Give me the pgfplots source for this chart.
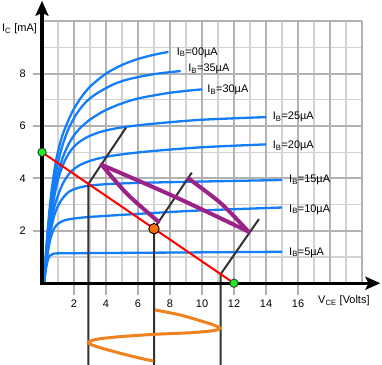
\documentclass[border=0pt]{standalone}
\usepackage{fontspec}
\setmainfont{Liberation Sans}
\usepackage{pgfplots}
\pgfplotsset{compat=1.18}
\usetikzlibrary{arrows.meta}
\definecolor{curveblue}{RGB}{20,125,250}
\definecolor{loadred}{RGB}{255,0,0}
\definecolor{darkline}{RGB}{50,50,50}
\definecolor{purp}{RGB}{155,35,135}
\definecolor{orng}{RGB}{240,130,30}
\definecolor{dotorange}{RGB}{255,110,0}
\definecolor{dotgreen}{RGB}{30,235,30}
\definecolor{gridmajor}{RGB}{178,178,178}
\definecolor{gridminor}{RGB}{210,210,210}
\newcommand{\lbl}{\fontsize{11}{13}\selectfont}
\begin{document}
\begin{tikzpicture}
\begin{axis}[
  x=16bp, y=26.2bp,
  xmin=-2.625, xmax=21.25, ymin=-3.12, ymax=10.81,
  enlargelimits=false,
  axis lines=middle,
  axis line style={draw=none,-},
  xtick={2,4,...,16}, ytick={2,4,6,8},
  major tick length=0pt,
  tick style={draw=none},
  /pgf/number format/assume math mode=true,
  xticklabel style={anchor=north, inner sep=0pt, yshift=-16.5bp, font=\lbl},
  yticklabel style={anchor=east, inner sep=0pt, xshift=-16bp, font=\lbl},
  clip=false,
]
% bounding box corners
\coordinate (LL) at (axis cs:-2.625,-3.12);
\coordinate (UR) at (axis cs:21.25,10.81);
% minor grid
\pgfplotsinvokeforeach{1,3,...,19}{\draw[gridminor, line width=1.3bp] (axis cs:#1,0) -- (axis cs:#1,10);}
\pgfplotsinvokeforeach{1,3,...,9}{\draw[gridminor, line width=1.3bp] (axis cs:0,#1) -- (axis cs:20,#1);}
% major grid
\pgfplotsinvokeforeach{2,4,...,20}{\draw[gridmajor, line width=2bp] (axis cs:#1,0) -- (axis cs:#1,10);}
\pgfplotsinvokeforeach{2,4,...,10}{\draw[gridmajor, line width=2bp] (axis cs:0,#1) -- (axis cs:20,#1);}
% tick marks
\pgfplotsinvokeforeach{2,4,...,16}{\draw[gridmajor, line width=2bp] (axis cs:#1,0) -- (axis cs:#1,-0.46);}
\pgfplotsinvokeforeach{2,4,...,8}{\draw[gridmajor, line width=2bp] (axis cs:0,#1) -- (axis cs:-0.56,#1);}

% characteristic curves (I_B = 5 ... 40 uA)
\addplot[curveblue, line width=2.3bp, smooth] coordinates {(0.12,0) (0.2,0.35) (0.3,0.72) (0.4,0.95) (0.5,1.06) (0.7,1.12) (1.0,1.14) (3,1.15) (8,1.17) (15,1.2)};
\addplot[curveblue, line width=2.3bp, smooth] coordinates {(0.12,0) (0.25,0.65) (0.4,1.3) (0.55,1.75) (0.75,2.08) (1.0,2.27) (1.4,2.4) (2.0,2.47) (3,2.53) (5,2.61) (7.5,2.7) (10,2.78) (15,2.89)};
\addplot[curveblue, line width=2.3bp, smooth] coordinates {(0.12,0) (0.3,1.0) (0.5,1.85) (0.75,2.55) (1.0,2.95) (1.3,3.25) (1.7,3.5) (2.2,3.63) (2.9,3.72) (4,3.78) (6,3.83) (9.9,3.88) (15,3.94)};
\addplot[curveblue, line width=2.3bp, smooth] coordinates {(0.12,0) (0.3,1.15) (0.5,2.05) (0.75,2.85) (1.0,3.35) (1.3,3.8) (1.7,4.18) (2.2,4.45) (2.9,4.65) (3.8,4.8) (5,4.92) (7,5.05) (10,5.19) (14,5.3)};
\addplot[curveblue, line width=2.3bp, smooth] coordinates {(0.12,0) (0.3,1.25) (0.5,2.3) (0.75,3.25) (1.0,3.95) (1.3,4.5) (1.7,4.98) (2.2,5.33) (2.9,5.6) (3.8,5.8) (5.0,5.95) (7,6.09) (10,6.24) (14,6.34)};
\addplot[curveblue, line width=2.3bp, smooth] coordinates {(0.12,0) (0.3,1.35) (0.5,2.5) (0.75,3.5) (1.0,4.2) (1.3,4.8) (1.7,5.35) (2.2,5.8) (2.9,6.2) (3.8,6.55) (4.8,6.82) (6.0,7.05) (8.0,7.27) (10,7.4)};
\addplot[curveblue, line width=2.3bp, smooth] coordinates {(0.12,0) (0.3,1.5) (0.5,2.75) (0.75,3.85) (1.0,4.6) (1.3,5.3) (1.7,5.95) (2.2,6.5) (2.8,6.95) (3.5,7.27) (4.5,7.6) (5.5,7.8) (7,7.98) (8.67,8.1)};
\addplot[curveblue, line width=2.3bp, smooth] coordinates {(0.12,0) (0.3,1.6) (0.5,3.0) (0.7,4.0) (0.9,4.75) (1.2,5.5) (1.5,6.0) (1.9,6.55) (2.4,7.05) (3.0,7.5) (4.0,8.0) (5.0,8.33) (6.0,8.56) (7.0,8.72) (7.9,8.83)};

% curve labels
\node[anchor=west, inner sep=0pt, font=\lbl] at (axis cs:8.42,8.80) {I\textsubscript{B}=00µA};
\node[anchor=west, inner sep=0pt, font=\lbl] at (axis cs:9.14,8.17) {I\textsubscript{B}=35µA};
\node[anchor=west, inner sep=0pt, font=\lbl] at (axis cs:10.33,7.38) {I\textsubscript{B}=30µA};
\node[anchor=west, inner sep=0pt, font=\lbl] at (axis cs:14.42,6.34) {I\textsubscript{B}=25µA};
\node[anchor=west, inner sep=0pt, font=\lbl] at (axis cs:14.42,5.24) {I\textsubscript{B}=20µA};
\node[anchor=west, inner sep=0pt, font=\lbl] at (axis cs:15.44,3.94) {I\textsubscript{B}=15µA};
\node[anchor=west, inner sep=0pt, font=\lbl] at (axis cs:15.44,2.82) {I\textsubscript{B}=10µA};
\node[anchor=west, inner sep=0pt, font=\lbl] at (axis cs:15.44,1.17) {I\textsubscript{B}=5µA};

% projection lines
\addplot[darkline, line width=2bp] coordinates {(2.9,-3.2) (2.9,3.79) (5.25,5.94)};
\addplot[darkline, line width=2bp] coordinates {(7.0,-3.2) (7.0,2.08) (9.36,4.22)};
\addplot[darkline, line width=2bp] coordinates {(11.17,-3.2) (11.17,0.35) (13.56,2.45)};

% load line
\addplot[loadred, line width=2bp] coordinates {(0,5) (12,0)};

% purple loop
\addplot[purp, line width=4bp, smooth, line cap=round] coordinates {(7.27,2.35) (5.3,3.42) (3.73,4.52)};
\addplot[purp, line width=4bp, smooth, line cap=round] coordinates {(3.73,4.52) (8.3,3.3) (12.9,1.97)};
\addplot[purp, line width=4bp, smooth, line cap=round] coordinates {(9.15,4.0) (11.2,3.04) (12.9,1.97)};

% input signal
\addplot[orng, line width=3bp, smooth] coordinates {(7.06,-1.02) (8.63,-1.21) (9.875,-1.43) (10.71,-1.59) (11.125,-1.72) (10.71,-1.81) (9.25,-1.89) (7.06,-1.95) (4.875,-2.04) (3.42,-2.14) (2.9,-2.27) (3.42,-2.42) (4.875,-2.67) (6.125,-2.86) (6.96,-2.97)};

% axes
\draw[black, line width=3.3bp, -{Stealth[length=15bp,width=13bp,inset=3bp]}] (axis cs:-0.1,0) -- (axis cs:21.15,0);
\draw[black, line width=3.3bp, -{Stealth[length=15bp,width=13bp,inset=3bp]}] (axis cs:0,-0.06) -- (axis cs:0,10.78);

% points
\addplot[only marks, mark=*, mark size=4.2bp, mark options={fill=dotgreen, draw=darkline, line width=0.8bp}] coordinates {(0,5) (12,0)};
\addplot[only marks, mark=*, mark size=5.2bp, mark options={fill=dotorange, draw=black, line width=0.9bp}] coordinates {(7.0,2.08)};

% axis labels
\node[anchor=west, inner sep=0pt, font=\lbl] at (axis cs:-2.5,9.7) {I\textsubscript{C} [mA]};
\node[anchor=west, inner sep=0pt, font=\lbl] at (axis cs:17.25,-0.68) {V\textsubscript{CE} [Volts]};
\end{axis}
\pgfresetboundingbox
\useasboundingbox (LL) rectangle (UR);
\end{tikzpicture}
\end{document}
